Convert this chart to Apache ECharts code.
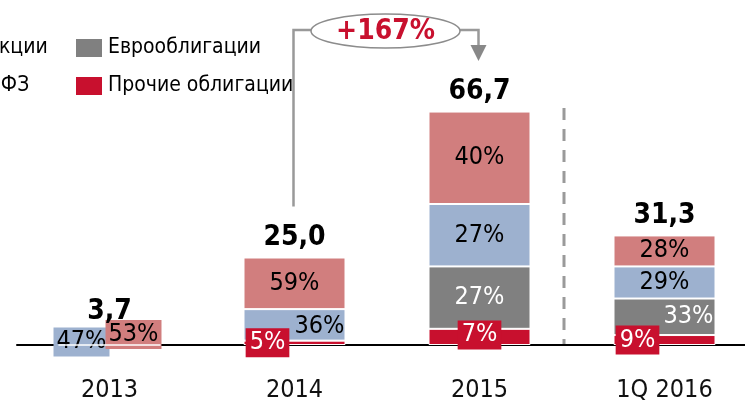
<!DOCTYPE html>
<html>
<head>
<meta charset="utf-8">
<script src="https://cdn.jsdelivr.net/npm/echarts@6/dist/echarts.min.js"></script>
<style>
html,body{margin:0;padding:0;background:#fff}
#main{width:745px;height:404px}
</style>
</head>
<body>
<div id="main"></div>
<script>
var categories = ['2013', '2014', '2015', '1Q 2016'];
var totals = [3.7, 25.0, 66.7, 31.3];
var totalLabels = ['3,7', '25,0', '66,7', '31,3'];
// доли, % (снизу вверх)
var otherPct = [0, 5, 7, 9];      // Прочие облигации
var euroPct = [0, 0, 27, 33];     // Еврооблигации
var ofzPct = [47, 36, 27, 29];    // ОФЗ
var sharesPct = [53, 59, 40, 28]; // Акции
var growthText = '+167%';

var FONT = '"DejaVu Sans Condensed", "DejaVu Sans", sans-serif';
var cRed = '#C8102E', cGrey = '#808080', cBlue = '#9DB1CF', cPink = '#D17E7E';

function seg(pct) {
    return pct.map(function (p, i) {
        var sum = otherPct[i] + euroPct[i] + ofzPct[i] + sharesPct[i];
        return totals[i] * p / sum;
    });
}

function mk(pct, labelFn) {
    return seg(pct).map(function (v, i) {
        var item = {value: v, pct: pct[i]};
        var l = labelFn(i, pct[i]);
        if (l) item.label = l;
        return item;
    });
}

var baseLabel = {show: true, position: 'inside', fontFamily: FONT, fontSize: 25, color: '#000',
    formatter: function (p) { return p.data.pct + '%'; }};

var redData = mk(otherPct, function (i, p) {
    if (!p) return {show: false};
    return {offset: i === 2 ? [0, -2] : [-27, 0]};
});
var greyData = mk(euroPct, function (i, p) {
    if (!p) return {show: false};
    return i === 3 ? {offset: [24, 0]} : null;
});
var blueData = mk(ofzPct, function (i, p) {
    if (i === 0) return {backgroundColor: cBlue, padding: [3, 3, 1, 3], offset: [-28, 0]};
    if (i === 1) return {offset: [25, 2]};
    return null;
});
var pinkData = mk(sharesPct, function (i, p) {
    if (i === 0) return {backgroundColor: cPink, padding: [3, 3, 1, 3], offset: [24, -1]};
    return null;
});

var itemBorder = {borderColor: '#fff', borderWidth: 1};
var legendText = {fontFamily: FONT, fontSize: 21, color: '#000'};

var myChart = echarts.init(document.getElementById('main'));
var option = {
    animation: false,
    textStyle: {fontFamily: FONT},
    legend: [{
        orient: 'vertical', left: -53, top: 32, icon: 'rect', itemWidth: 28, itemHeight: 20, itemGap: 16,
        textStyle: legendText, data: ['Акции', 'ОФЗ'], selectedMode: false
    }, {
        orient: 'vertical', left: 69, top: 32, icon: 'rect', itemWidth: 28, itemHeight: 20, itemGap: 16,
        textStyle: legendText, data: ['Еврооблигации', 'Прочие облигации'], selectedMode: false
    }],
    grid: {left: 17, width: 740, top: 65, bottom: 59, outerBoundsMode: 'none', containLabel: false},
    xAxis: {
        type: 'category', data: categories,
        axisLine: {lineStyle: {color: '#000', width: 2}},
        axisTick: {show: false},
        axisLabel: {fontFamily: FONT, fontSize: 25, color: '#111', margin: 33}
    },
    yAxis: {type: 'value', min: 0, max: 80, show: false, splitLine: {show: false}},
    series: [{
        name: 'Прочие облигации', type: 'bar', stack: 'a', barWidth: 102,
        itemStyle: Object.assign({color: cRed}, itemBorder),
        label: Object.assign({}, baseLabel, {color: '#fff', backgroundColor: cRed, padding: [3, 4, 1, 4]}),
        z: 3, data: redData
    }, {
        name: 'Еврооблигации', type: 'bar', stack: 'a',
        itemStyle: Object.assign({color: cGrey}, itemBorder),
        label: Object.assign({}, baseLabel, {color: '#fff'}),
        data: greyData
    }, {
        name: 'ОФЗ', type: 'bar', stack: 'a',
        itemStyle: Object.assign({color: cBlue}, itemBorder),
        label: baseLabel, data: blueData
    }, {
        name: 'Акции', type: 'bar', stack: 'a',
        itemStyle: Object.assign({color: cPink}, itemBorder),
        label: baseLabel, data: pinkData
    }, {
        name: 'total', type: 'bar', stack: 'a', barWidth: 102,
        itemStyle: {color: 'transparent'},
        label: {show: true, position: 'top', distance: 6, fontFamily: FONT, fontSize: 28, fontWeight: 'bold', color: '#000',
            formatter: function (p) { return totalLabels[p.dataIndex]; }},
        data: totals.map(function () { return 0.001; })
    }]
};
myChart.setOption(option);

// аннотации: стрелка роста и пунктирный разделитель
var p14 = myChart.convertToPixel({seriesIndex: 0}, [1, totals[1]]);
var p15 = myChart.convertToPixel({seriesIndex: 0}, [2, totals[2]]);
var p16 = myChart.convertToPixel({seriesIndex: 0}, [3, 0]);
var p15b = myChart.convertToPixel({seriesIndex: 0}, [2, 0]);
var lineY = 30, ex1 = 311, ex2 = 460;
var gray = '#999';
var sepX = Math.round((p15b[0] + p16[0]) / 2) - 8;
myChart.setOption({
    graphic: [
        {type: 'polyline', shape: {points: [[p14[0] - 1, p14[1] - 51], [p14[0] - 1, lineY], [ex1, lineY]]},
            style: {stroke: gray, lineWidth: 2.5, fill: null}},
        {type: 'polyline', shape: {points: [[ex2, lineY], [p15[0] - 1, lineY], [p15[0] - 1, 48]]},
            style: {stroke: gray, lineWidth: 2.5, fill: null}},
        {type: 'polygon', shape: {points: [[p15[0] - 9, 45], [p15[0] + 7, 45], [p15[0] - 1, 61]]},
            style: {fill: '#888'}},
        {type: 'ellipse', shape: {cx: (ex1 + ex2) / 2, cy: 31, rx: (ex2 - ex1) / 2, ry: 17},
            style: {fill: '#fff', stroke: '#8c8c8c', lineWidth: 1.5}},
        {type: 'text', x: (ex1 + ex2) / 2, y: 32, style: {text: growthText, fill: cRed,
            font: 'bold 28px "DejaVu Sans Condensed", "DejaVu Sans"', align: 'center', verticalAlign: 'middle'}},
        {type: 'line', shape: {x1: sepX, y1: 108, x2: sepX, y2: p16[1]},
            style: {stroke: '#9a9a9a', lineWidth: 3, lineDash: [12, 9]}}
    ]
});
</script>
</body>
</html>
